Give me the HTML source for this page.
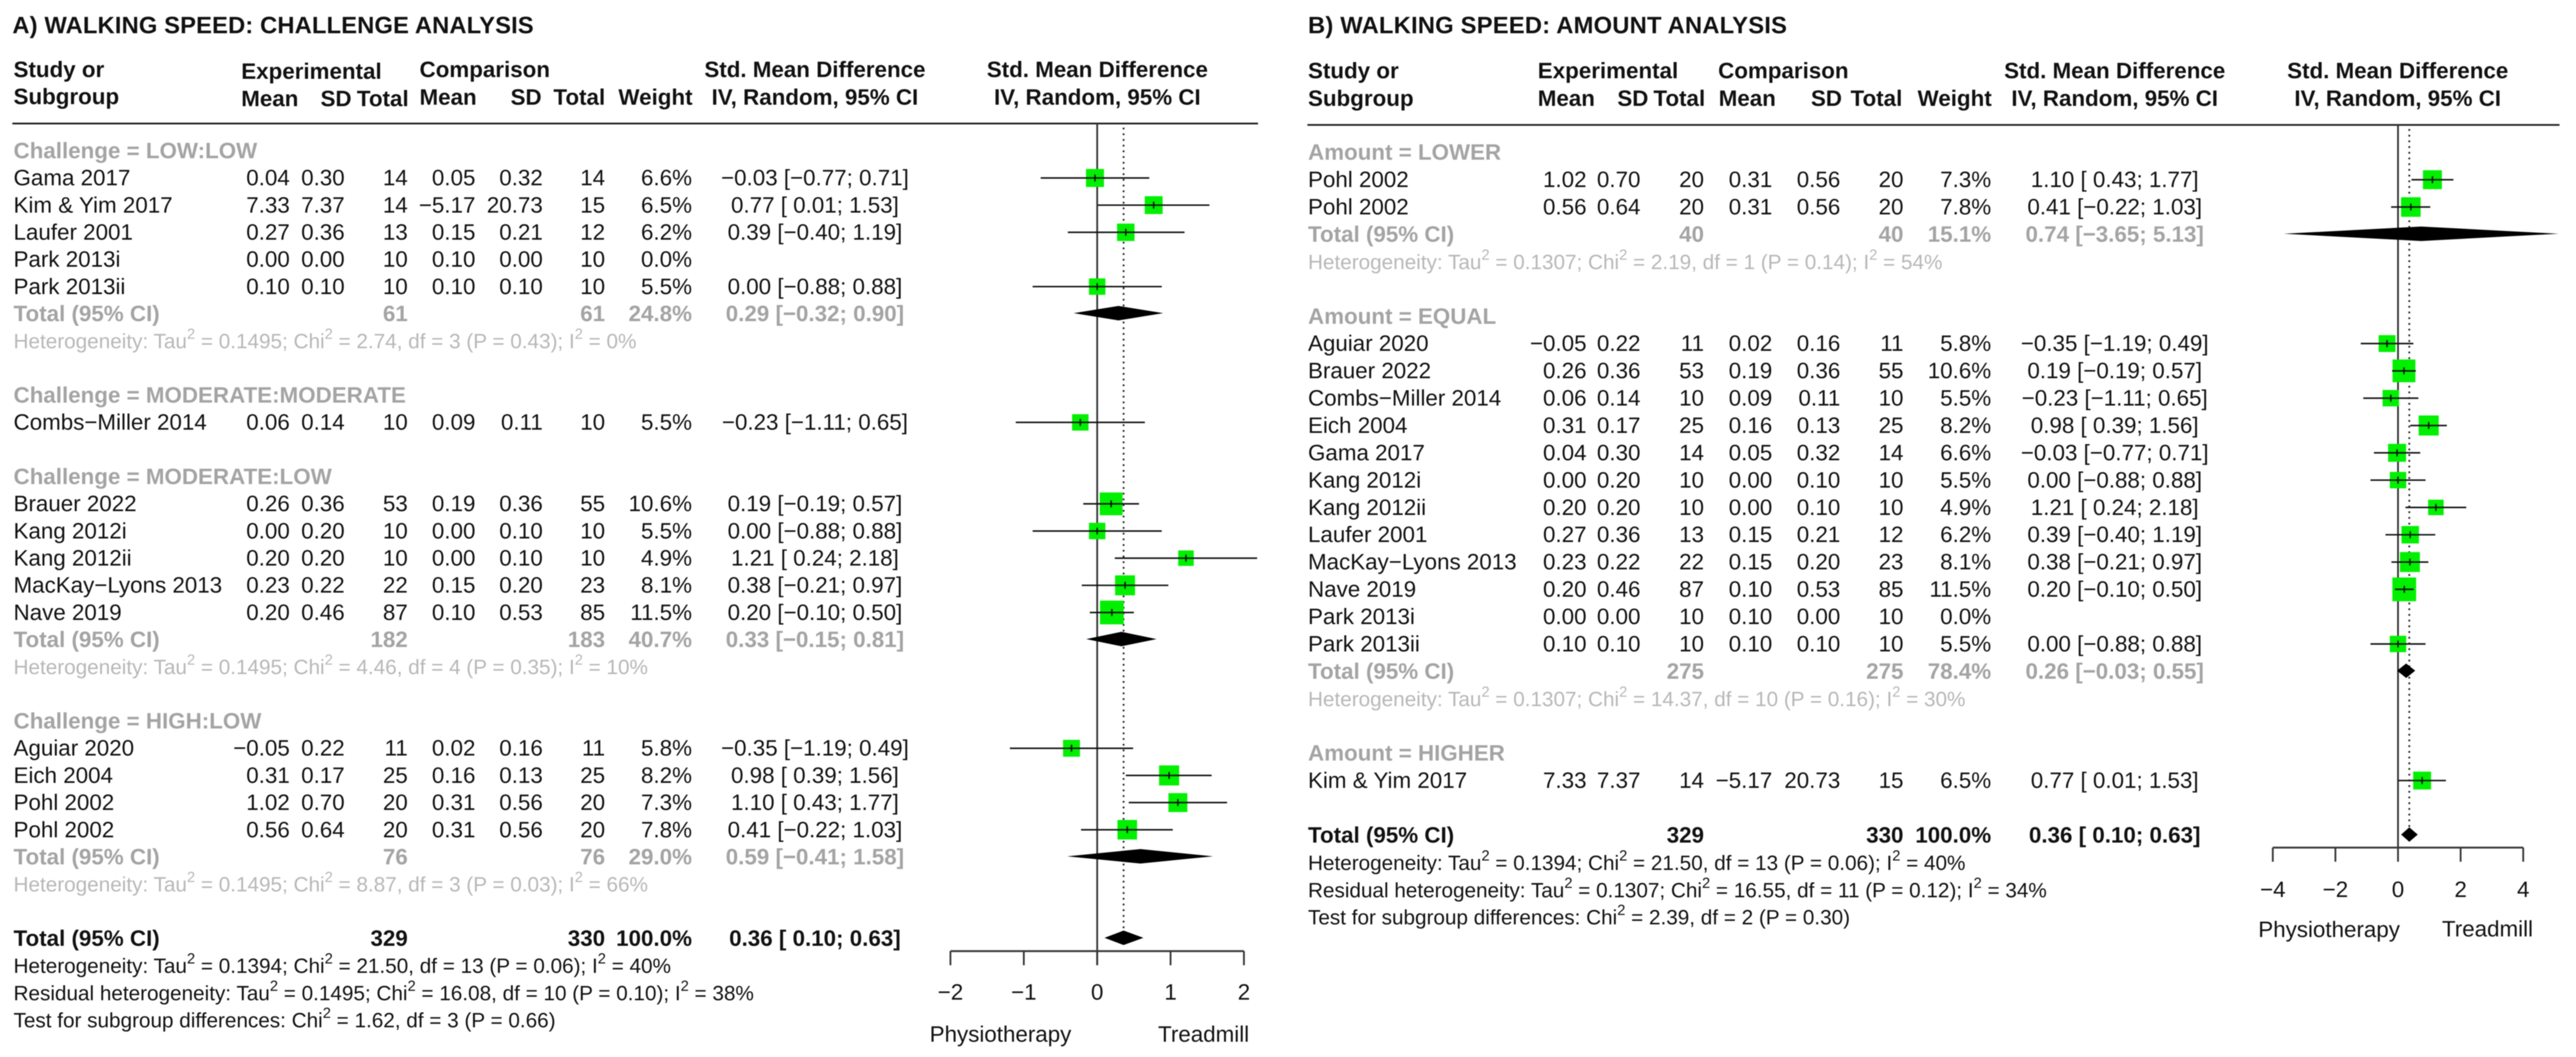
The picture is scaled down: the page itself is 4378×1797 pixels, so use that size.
<!DOCTYPE html>
<html lang="en">
<head>
<meta charset="utf-8">
<title>Walking speed forest plots</title>
<style>
html,body{margin:0;padding:0;background:#fff}
svg{display:block;filter:blur(0.7px)}
text{font-family:"Liberation Sans",Arial,sans-serif;font-size:38px;fill:#111;white-space:pre;text-rendering:geometricPrecision}
.b{font-weight:bold}
.title{font-size:40.4px;font-weight:bold}
</style>
</head>
<body>
<svg id="chart" xmlns="http://www.w3.org/2000/svg" width="4378" height="1797" viewBox="0 0 4378 1797">
  <rect x="0" y="0" width="4378" height="1797" fill="#fff"/>

  <g id="panelA">
    <text class="title" x="21" y="56.6" textLength="886" lengthAdjust="spacing">A) WALKING SPEED: CHALLENGE ANALYSIS</text>
    <text class="b" x="23" y="131">Study or</text>
    <text class="b" x="23" y="177">Subgroup</text>
    <text class="b" x="410" y="134">Experimental</text>
    <text class="b" x="410" y="180.5">Mean</text>
    <text class="b" x="597.5" y="180.5" text-anchor="end">SD</text>
    <text class="b" x="694.5" y="180.5" text-anchor="end">Total</text>
    <text class="b" x="713" y="131">Comparison</text>
    <text class="b" x="713" y="178">Mean</text>
    <text class="b" x="920.5" y="178" text-anchor="end">SD</text>
    <text class="b" x="1028.5" y="178" text-anchor="end">Total</text>
    <text class="b" x="1177" y="178" text-anchor="end">Weight</text>
    <text class="b" x="1385" y="131" text-anchor="middle">Std. Mean Difference</text>
    <text class="b" x="1385" y="178" text-anchor="middle">IV, Random, 95% CI</text>
    <text class="b" x="1865" y="131" text-anchor="middle">Std. Mean Difference</text>
    <text class="b" x="1865" y="178" text-anchor="middle">IV, Random, 95% CI</text>
    <line x1="21" x2="2138" y1="210" y2="210" stroke="#222" stroke-width="3"/>
    <text x="1580" y="1771">Physiotherapy</text>
    <text x="2123" y="1771" text-anchor="end">Treadmill</text>
  </g>

  <g id="panelB">
    <text class="title" x="2223" y="56.6" textLength="814" lengthAdjust="spacing">B) WALKING SPEED: AMOUNT ANALYSIS</text>
    <text class="b" x="2223" y="133">Study or</text>
    <text class="b" x="2223" y="180">Subgroup</text>
    <text class="b" x="2613.5" y="133">Experimental</text>
    <text class="b" x="2613.5" y="180">Mean</text>
    <text class="b" x="2801.5" y="180" text-anchor="end">SD</text>
    <text class="b" x="2898" y="180" text-anchor="end">Total</text>
    <text class="b" x="2920" y="133">Comparison</text>
    <text class="b" x="2921" y="180">Mean</text>
    <text class="b" x="3130.5" y="180" text-anchor="end">SD</text>
    <text class="b" x="3233" y="180" text-anchor="end">Total</text>
    <text class="b" x="3385" y="180" text-anchor="end">Weight</text>
    <text class="b" x="3594" y="133" text-anchor="middle">Std. Mean Difference</text>
    <text class="b" x="3594" y="180" text-anchor="middle">IV, Random, 95% CI</text>
    <text class="b" x="4075" y="133" text-anchor="middle">Std. Mean Difference</text>
    <text class="b" x="4075" y="180" text-anchor="middle">IV, Random, 95% CI</text>
    <line x1="2222" x2="4350" y1="212.4" y2="212.4" stroke="#222" stroke-width="3"/>
    <text x="3838" y="1593">Physiotherapy</text>
    <text x="4305" y="1592" text-anchor="end">Treadmill</text>
  </g>
</svg>

<script>
/* ===== Panel A data ===== */
const subgroupLabelsA = ['Challenge = LOW:LOW', 'Challenge = MODERATE:MODERATE', 'Challenge = MODERATE:LOW', 'Challenge = HIGH:LOW'];
const subgroupSizesA = [5, 1, 5, 4];
const studiesA = ['Gama 2017', 'Kim & Yim 2017', 'Laufer 2001', 'Park 2013i', 'Park 2013ii', 'Combs\u2212Miller 2014', 'Brauer 2022', 'Kang 2012i', 'Kang 2012ii', 'MacKay\u2212Lyons 2013', 'Nave 2019', 'Aguiar 2020', 'Eich 2004', 'Pohl 2002', 'Pohl 2002'];
const expMeanA = [0.04, 7.33, 0.27, 0.00, 0.10, 0.06, 0.26, 0.00, 0.20, 0.23, 0.20, -0.05, 0.31, 1.02, 0.56];
const expSdA = [0.30, 7.37, 0.36, 0.00, 0.10, 0.14, 0.36, 0.20, 0.20, 0.22, 0.46, 0.22, 0.17, 0.70, 0.64];
const expTotalA = [14, 14, 13, 10, 10, 10, 53, 10, 10, 22, 87, 11, 25, 20, 20];
const compMeanA = [0.05, -5.17, 0.15, 0.10, 0.10, 0.09, 0.19, 0.00, 0.00, 0.15, 0.10, 0.02, 0.16, 0.31, 0.31];
const compSdA = [0.32, 20.73, 0.21, 0.00, 0.10, 0.11, 0.36, 0.10, 0.10, 0.20, 0.53, 0.16, 0.13, 0.56, 0.56];
const compTotalA = [14, 15, 12, 10, 10, 10, 55, 10, 10, 23, 85, 11, 25, 20, 20];
const weightA = [6.6, 6.5, 6.2, 0.0, 5.5, 5.5, 10.6, 5.5, 4.9, 8.1, 11.5, 5.8, 8.2, 7.3, 7.8];
const smdA = [-0.03, 0.77, 0.39, null, 0.00, -0.23, 0.19, 0.00, 1.21, 0.38, 0.20, -0.35, 0.98, 1.10, 0.41];
const lowerA = [-0.77, 0.01, -0.40, null, -0.88, -1.11, -0.19, -0.88, 0.24, -0.21, -0.10, -1.19, 0.39, 0.43, -0.22];
const upperA = [0.71, 1.53, 1.19, null, 0.88, 0.65, 0.57, 0.88, 2.18, 0.97, 0.50, 0.49, 1.56, 1.77, 1.03];
const groupExpTotalA = [61, null, 182, 76];
const groupCompTotalA = [61, null, 183, 76];
const groupWeightA = [24.8, null, 40.7, 29.0];
const groupSmdA = [0.29, null, 0.33, 0.59];
const groupLowerA = [-0.32, null, -0.15, -0.41];
const groupUpperA = [0.90, null, 0.81, 1.58];
const groupHetA = [
  'Heterogeneity: Tau² = 0.1495; Chi² = 2.74, df = 3 (P = 0.43); I² = 0%',
  null,
  'Heterogeneity: Tau² = 0.1495; Chi² = 4.46, df = 4 (P = 0.35); I² = 10%',
  'Heterogeneity: Tau² = 0.1495; Chi² = 8.87, df = 3 (P = 0.03); I² = 66%'
];
const overallNotesA = [
  'Heterogeneity: Tau² = 0.1394; Chi² = 21.50, df = 13 (P = 0.06); I² = 40%',
  'Residual heterogeneity: Tau² = 0.1495; Chi² = 16.08, df = 10 (P = 0.10); I² = 38%',
  'Test for subgroup differences: Chi² = 1.62, df = 3 (P = 0.66)'
];
const ticksA = [-2, -1, 0, 1, 2];

/* ===== Panel B data ===== */
const subgroupLabelsB = ['Amount = LOWER', 'Amount = EQUAL', 'Amount = HIGHER'];
const subgroupSizesB = [2, 12, 1];
const studiesB = ['Pohl 2002', 'Pohl 2002', 'Aguiar 2020', 'Brauer 2022', 'Combs\u2212Miller 2014', 'Eich 2004', 'Gama 2017', 'Kang 2012i', 'Kang 2012ii', 'Laufer 2001', 'MacKay\u2212Lyons 2013', 'Nave 2019', 'Park 2013i', 'Park 2013ii', 'Kim & Yim 2017'];
const expMeanB = [1.02, 0.56, -0.05, 0.26, 0.06, 0.31, 0.04, 0.00, 0.20, 0.27, 0.23, 0.20, 0.00, 0.10, 7.33];
const expSdB = [0.70, 0.64, 0.22, 0.36, 0.14, 0.17, 0.30, 0.20, 0.20, 0.36, 0.22, 0.46, 0.00, 0.10, 7.37];
const expTotalB = [20, 20, 11, 53, 10, 25, 14, 10, 10, 13, 22, 87, 10, 10, 14];
const compMeanB = [0.31, 0.31, 0.02, 0.19, 0.09, 0.16, 0.05, 0.00, 0.00, 0.15, 0.15, 0.10, 0.10, 0.10, -5.17];
const compSdB = [0.56, 0.56, 0.16, 0.36, 0.11, 0.13, 0.32, 0.10, 0.10, 0.21, 0.20, 0.53, 0.00, 0.10, 20.73];
const compTotalB = [20, 20, 11, 55, 10, 25, 14, 10, 10, 12, 23, 85, 10, 10, 15];
const weightB = [7.3, 7.8, 5.8, 10.6, 5.5, 8.2, 6.6, 5.5, 4.9, 6.2, 8.1, 11.5, 0.0, 5.5, 6.5];
const smdB = [1.10, 0.41, -0.35, 0.19, -0.23, 0.98, -0.03, 0.00, 1.21, 0.39, 0.38, 0.20, null, 0.00, 0.77];
const lowerB = [0.43, -0.22, -1.19, -0.19, -1.11, 0.39, -0.77, -0.88, 0.24, -0.40, -0.21, -0.10, null, -0.88, 0.01];
const upperB = [1.77, 1.03, 0.49, 0.57, 0.65, 1.56, 0.71, 0.88, 2.18, 1.19, 0.97, 0.50, null, 0.88, 1.53];
const groupExpTotalB = [40, 275, null];
const groupCompTotalB = [40, 275, null];
const groupWeightB = [15.1, 78.4, null];
const groupSmdB = [0.74, 0.26, null];
const groupLowerB = [-3.65, -0.03, null];
const groupUpperB = [5.13, 0.55, null];
const groupHetB = [
  'Heterogeneity: Tau² = 0.1307; Chi² = 2.19, df = 1 (P = 0.14); I² = 54%',
  'Heterogeneity: Tau² = 0.1307; Chi² = 14.37, df = 10 (P = 0.16); I² = 30%',
  null
];
const overallNotesB = [
  'Heterogeneity: Tau² = 0.1394; Chi² = 21.50, df = 13 (P = 0.06); I² = 40%',
  'Residual heterogeneity: Tau² = 0.1307; Chi² = 16.55, df = 11 (P = 0.12); I² = 34%',
  'Test for subgroup differences: Chi² = 2.39, df = 2 (P = 0.30)'
];
const ticksB = [-4, -2, 0, 2, 4];

/* ===== Pooled estimate shared by both panels ===== */
const overallExpTotal = 329;
const overallCompTotal = 330;
const overallWeight = 100.0;
const overallSmd = 0.36;
const overallLower = 0.10;
const overallUpper = 0.63;

/* ===== Rendering ===== */
const NS = 'http://www.w3.org/2000/svg';
const GREEN = '#00f000';
const GREY_BOLD = '#a4a4a4';
const GREY_NOTE = '#b8b8b8';
const NOTE_SIZE = 35.2;

function fmt(v) { return v.toFixed(2).replace('-', '\u2212'); }
function ciText(s, l, u) { return fmt(s) + ' [' + (l < 0 ? '' : ' ') + fmt(l) + '; ' + fmt(u) + ']'; }

function addText(parent, name, str, x, y, anchor, bold, fill, size) {
  const el = document.createElementNS(NS, 'text');
  
  
  el.setAttribute('x', x);
  el.setAttribute('y', y);
  if (anchor) el.setAttribute('text-anchor', anchor);
  if (bold) el.setAttribute('font-weight', 'bold');
  if (fill) el.style.fill = fill;
  if (size) el.style.fontSize = size + 'px';
  const parts = String(str).split('²');
  parts.forEach(function (part, i) {
    if (i === 0) {
      el.appendChild(document.createTextNode(part));
      return;
    }
    const sup = document.createElementNS(NS, 'tspan');
    sup.setAttribute('dy', '-16');
    sup.style.fontSize = '25px';
    sup.textContent = '2';
    el.appendChild(sup);
    const rest = document.createElementNS(NS, 'tspan');
    rest.setAttribute('dy', '16');
    rest.textContent = part;
    el.appendChild(rest);
  });
  parent.appendChild(el);
  return el;
}

function addLine(parent, name, x1, y1, x2, y2, stroke, width, dash) {
  const el = document.createElementNS(NS, 'line');
  
  
  el.setAttribute('x1', x1);
  el.setAttribute('y1', y1);
  el.setAttribute('x2', x2);
  el.setAttribute('y2', y2);
  el.setAttribute('stroke', stroke);
  el.setAttribute('stroke-width', width);
  if (dash) el.setAttribute('stroke-dasharray', dash);
  parent.appendChild(el);
  return el;
}

function addDiamond(parent, name, xScale, s, l, u, cy, halfHeight) {
  const el = document.createElementNS(NS, 'polygon');
  
  
  el.setAttribute('points', xScale(l) + ',' + cy + ' ' + xScale(s) + ',' + (cy - halfHeight) + ' ' + xScale(u) + ',' + cy + ' ' + xScale(s) + ',' + (cy + halfHeight));
  el.setAttribute('fill', '#000');
  parent.appendChild(el);
  return el;
}

function addStudyMark(parent, xScale, s, l, u, w, cy) {
  const size = Math.sqrt(w) * 11.9;
  const box = document.createElementNS(NS, 'rect');
  
  
  box.setAttribute('x', xScale(s) - size / 2);
  box.setAttribute('y', cy - size / 2);
  box.setAttribute('width', size);
  box.setAttribute('height', size);
  box.setAttribute('fill', GREEN);
  parent.appendChild(box);
  addLine(parent, 'study-confidence-interval', xScale(l), cy, xScale(u), cy, '#111', 2.6);
  addLine(parent, 'study-point-estimate-tick', xScale(s), cy - 6, xScale(s), cy + 6, '#111', 2.4);
}

function countRowsBeforeOverall(sizes, groupSmd) {
  let total = 0;
  sizes.forEach(function (count, gi) {
    total += 1 + count + (groupSmd[gi] !== null ? 2 : 0) + 1;
  });
  return total;
}

function drawPanel(p) {
  const g = document.getElementById(p.id);
  const base = function (row) { return p.rowStart + p.rowStep * row; };
  const markY = function (row) { return base(row) - 12.6; };
  const diamondY = function (row) { return base(row) - 13.6; };
  const c = p.cols;
  const marks = document.createElementNS(NS, 'g');
  
  

  /* reference lines sit beneath the marks */
  const overallRow = countRowsBeforeOverall(p.sizes, p.groupSmd);
  addLine(marks, 'null-effect-line', p.x(0), p.ruleY, p.x(0), p.axisY + 24, '#333', 3);
  addLine(marks, 'pooled-effect-dotted-line', p.x(overallSmd), p.ruleY + 7, p.x(overallSmd), diamondY(overallRow) - 13, '#222', 3, '3 6.7');

  let row = 0;
  let study = 0;
  p.sizes.forEach(function (count, gi) {
    addText(g, 'subgroup-label', p.labels[gi], c.left, base(row), null, true, GREY_BOLD);
    row += 1;
    for (let k = 0; k < count; k += 1) {
      const y = base(row);
      addText(g, 'study-name', p.studies[study], c.left, y);
      addText(g, 'experimental-mean', fmt(p.expMean[study]), c.expMean, y, 'end');
      addText(g, 'experimental-sd', fmt(p.expSd[study]), c.expSd, y, 'end');
      addText(g, 'experimental-total', p.expTotal[study], c.expTotal, y, 'end');
      addText(g, 'comparison-mean', fmt(p.compMean[study]), c.compMean, y, 'end');
      addText(g, 'comparison-sd', fmt(p.compSd[study]), c.compSd, y, 'end');
      addText(g, 'comparison-total', p.compTotal[study], c.compTotal, y, 'end');
      addText(g, 'study-weight', p.weight[study].toFixed(1) + '%', c.weight, y, 'end');
      if (p.smd[study] !== null) {
        addText(g, 'study-effect-text', ciText(p.smd[study], p.lower[study], p.upper[study]), c.smd, y, 'middle');
        addStudyMark(marks, p.x, p.smd[study], p.lower[study], p.upper[study], p.weight[study], markY(row));
      }
      row += 1;
      study += 1;
    }
    if (p.groupSmd[gi] !== null) {
      const y = base(row);
      addText(g, 'subgroup-total-label', 'Total (95% CI)', c.left, y, null, true, GREY_BOLD);
      addText(g, 'subgroup-exp-total', p.groupExp[gi], c.expTotal, y, 'end', true, GREY_BOLD);
      addText(g, 'subgroup-comp-total', p.groupComp[gi], c.compTotal, y, 'end', true, GREY_BOLD);
      addText(g, 'subgroup-weight', p.groupWeight[gi].toFixed(1) + '%', c.weight, y, 'end', true, GREY_BOLD);
      addText(g, 'subgroup-effect-text', ciText(p.groupSmd[gi], p.groupLower[gi], p.groupUpper[gi]), c.smd, y, 'middle', true, GREY_BOLD);
      addDiamond(marks, 'subgroup-diamond', p.x, p.groupSmd[gi], p.groupLower[gi], p.groupUpper[gi], diamondY(row), 12.3);
      row += 1;
      addText(g, 'subgroup-heterogeneity', p.groupHet[gi], c.left, base(row), null, false, GREY_NOTE, NOTE_SIZE);
      row += 1;
    }
    row += 1;
  });

  /* pooled row */
  const y = base(row);
  addText(g, 'overall-total-label', 'Total (95% CI)', c.left, y, null, true);
  addText(g, 'overall-exp-total', overallExpTotal, c.expTotal, y, 'end', true);
  addText(g, 'overall-comp-total', overallCompTotal, c.compTotal, y, 'end', true);
  addText(g, 'overall-weight', overallWeight.toFixed(1) + '%', c.weight, y, 'end', true);
  addText(g, 'overall-effect-text', ciText(overallSmd, overallLower, overallUpper), c.smd, y, 'middle', true);
  addDiamond(marks, 'overall-diamond', p.x, overallSmd, overallLower, overallUpper, diamondY(row), 12.3);
  p.notes.forEach(function (note, i) {
    addText(g, 'overall-statistics-note', note, c.left, base(row + 1 + i), null, false, null, NOTE_SIZE);
  });

  /* axis */
  addLine(marks, 'x-axis-line', p.x(p.ticks[0]), p.axisY, p.x(p.ticks[p.ticks.length - 1]), p.axisY, '#3a3a3a', 3.3);
  p.ticks.forEach(function (t) {
    addLine(marks, 'x-axis-tick', p.x(t), p.axisY, p.x(t), p.axisY + 24, '#333', 3);
    addText(g, 'x-axis-tick-label', String(t).replace('-', '\u2212'), p.x(t), p.tickLabelY, 'middle');
  });
  g.appendChild(marks);
}

drawPanel({
  id: 'panelA', rowStart: 269, rowStep: 46.17, ruleY: 210, axisY: 1617, tickLabelY: 1699.5,
  x: function (v) { return 1864.7 + v * 124.7; },
  cols: { left: 23, expMean: 492.5, expSd: 585.8, expTotal: 693, compMean: 808, compSd: 922.5, compTotal: 1028.4, weight: 1176, smd: 1385 },
  labels: subgroupLabelsA, sizes: subgroupSizesA, studies: studiesA,
  expMean: expMeanA, expSd: expSdA, expTotal: expTotalA, compMean: compMeanA, compSd: compSdA, compTotal: compTotalA,
  weight: weightA, smd: smdA, lower: lowerA, upper: upperA,
  groupExp: groupExpTotalA, groupComp: groupCompTotalA, groupWeight: groupWeightA,
  groupSmd: groupSmdA, groupLower: groupLowerA, groupUpper: groupUpperA, groupHet: groupHetA,
  notes: overallNotesA, ticks: ticksA
});

drawPanel({
  id: 'panelB', rowStart: 271.7, rowStep: 46.43, ruleY: 212.4, axisY: 1441, tickLabelY: 1525,
  x: function (v) { return 4075.5 + v * 53.2; },
  cols: { left: 2223, expMean: 2696.4, expSd: 2788, expTotal: 2896, compMean: 3012, compSd: 3127.6, compTotal: 3235, weight: 3384, smd: 3594 },
  labels: subgroupLabelsB, sizes: subgroupSizesB, studies: studiesB,
  expMean: expMeanB, expSd: expSdB, expTotal: expTotalB, compMean: compMeanB, compSd: compSdB, compTotal: compTotalB,
  weight: weightB, smd: smdB, lower: lowerB, upper: upperB,
  groupExp: groupExpTotalB, groupComp: groupCompTotalB, groupWeight: groupWeightB,
  groupSmd: groupSmdB, groupLower: groupLowerB, groupUpper: groupUpperB, groupHet: groupHetB,
  notes: overallNotesB, ticks: ticksB
});
</script>
</body>
</html>
